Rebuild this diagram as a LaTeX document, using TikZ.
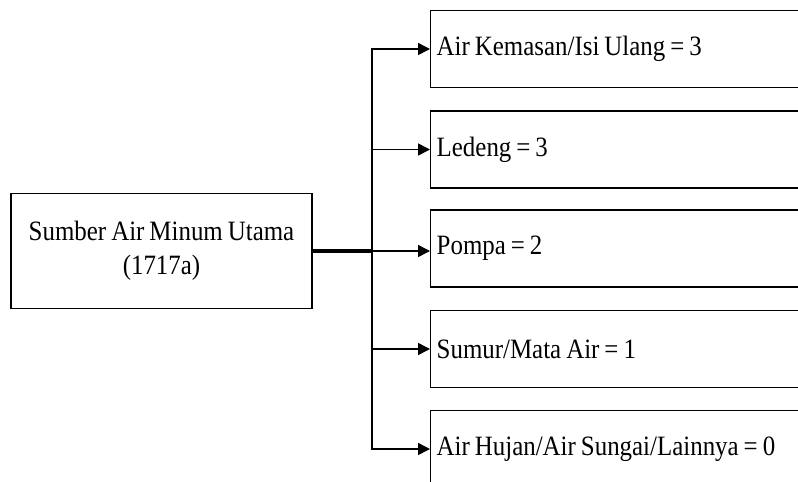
\documentclass[tikz,border=0pt]{standalone}
\usepackage{fontspec}
\setmainfont[FakeStretch=0.89,WordSpace=0.8]{Liberation Serif}
\usetikzlibrary{arrows.meta}

\begin{document}
\begin{tikzpicture}[x=1pt,y=-1pt,
  font=\fontsize{28}{34}\selectfont,
  box/.style={draw,line width=1.4pt},
  item/.style={box,anchor=west,minimum width=420pt,minimum height=77pt,text width=408pt,align=flush left,inner xsep=6pt,inner ysep=0pt},
  arr/.style={line width=1.5pt,-{Triangle[length=12pt,width=12pt]}}]
  \clip (0,0) rectangle (798,482);
  \fill[white] (0,0) rectangle (798,482);

  \node[box,minimum width=301pt,minimum height=115pt,align=center] (src) at (161.5,251) {Sumber Air Minum Utama\\(1717a)};

  \node[item] (kemasan) at (430,49) {Air Kemasan/Isi Ulang = 3};
  \node[item] (ledeng) at (430,149.5) {Ledeng = 3};
  \node[item] (pompa) at (430,248.5) {Pompa = 2};
  \node[item] (sumur) at (430,349) {Sumur/Mata Air = 1};
  \node[item] (hujan) at (430,449) {Air Hujan/Air Sungai/Lainnya = 0};

  \coordinate (hub) at (372,251);
  \draw[line width=4pt] (src.east) -- (hub);

  \draw[arr] (hub) |- (kemasan.west);
  \draw[arr] (hub) |- (ledeng.west);
  \draw[arr] (hub) -- (pompa.west |- hub);
  \draw[arr] (hub) |- (sumur.west);
  \draw[arr] (hub) |- (hujan.west);
\end{tikzpicture}
\end{document}
